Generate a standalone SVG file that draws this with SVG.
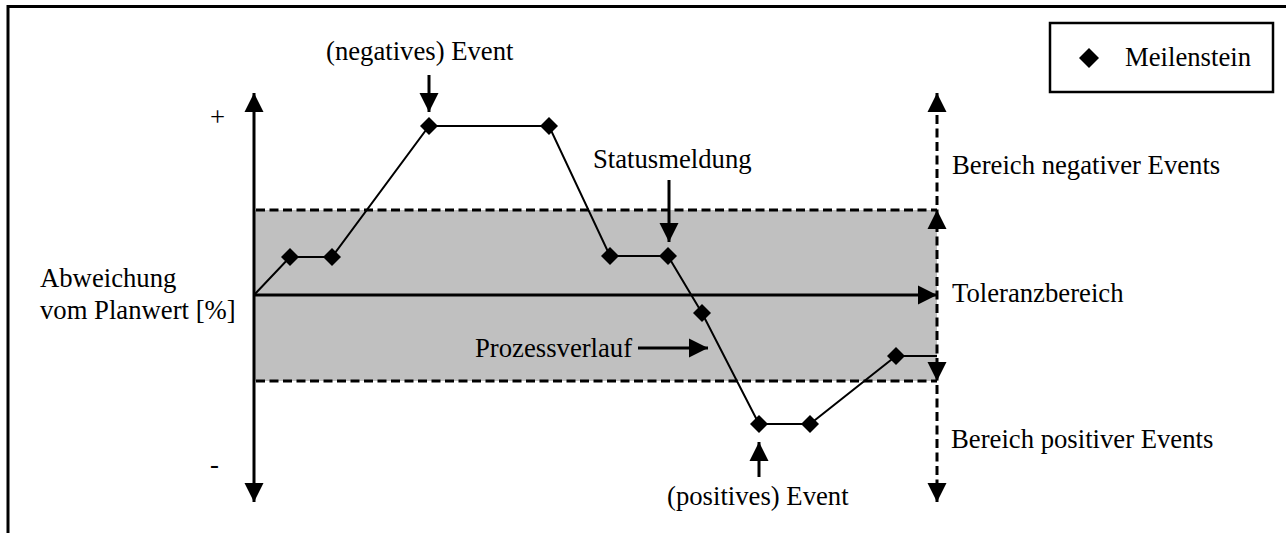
<svg xmlns="http://www.w3.org/2000/svg" xmlns:xlink="http://www.w3.org/1999/xlink" width="1286" height="533" viewBox="0 0 1286 533">
  <style>
    text { font-family: "Liberation Serif", "Times New Roman", serif; font-size: 26.7px; fill: #000; }
    .frame { fill: none; stroke: #000; stroke-width: 3; }
    .axis { fill: none; stroke: #000; stroke-width: 3; }
    .dash { fill: none; stroke: #000; stroke-width: 3; stroke-dasharray: 9 4.5; }
    .proc { fill: none; stroke: #000; stroke-width: 2; }
    .arr { fill: none; stroke: #000; stroke-width: 3; }
    .band { fill: #c0c0c0; stroke: none; }
    .ms { fill: #000; }
  </style>
  <defs>
    <marker id="ah" markerUnits="userSpaceOnUse" markerWidth="20" markerHeight="20" viewBox="0 0 20 20" refX="19" refY="10" orient="auto-start-reverse">
      <path d="M0,0.5 L19,10 L0,19.5 Z" fill="#000"/>
    </marker>
    <polygon id="dia" points="0,-9 9,0 0,9 -9,0"/>
  </defs>

  <rect width="1286" height="533" fill="#fff"/>

  <!-- outer frame -->
  <path class="frame" d="M8,533 V6.5 H1286"/>

  <!-- tolerance band -->
  <g id="toleranzbereich">
    <rect class="band" x="254" y="210" width="683" height="171"/>
    <path class="dash" d="M256,210 H937 M256,381 H937"/>
  </g>

  <g id="connectors">
    <!-- vertical axis -->
    <path class="axis" d="M254,502 V93" marker-start="url(#ah)" marker-end="url(#ah)"/>
    <!-- horizontal axis -->
    <path class="axis" d="M254,295 H937" marker-end="url(#ah)"/>
    <!-- right dashed range line -->
    <path class="dash" d="M937,502 V93" marker-start="url(#ah)" marker-end="url(#ah)"/>
    <path d="M937,240 V210" stroke="none" fill="none" marker-end="url(#ah)"/>
    <path d="M937,350 V381" stroke="none" fill="none" marker-end="url(#ah)"/>
    <!-- process line -->
    <polyline class="proc" points="254,295 290,257 332,257 429,126 549,126 610,256 668,256 702,313 759,424 810,424 896,356 937,356"/>
    <!-- event arrows -->
    <path class="arr" d="M429,75 V112" marker-end="url(#ah)"/>
    <path class="arr" d="M669,180 V242" marker-end="url(#ah)"/>
    <path class="arr" d="M759,477 V442" marker-end="url(#ah)"/>
    <path class="arr" d="M638,348 H708" marker-end="url(#ah)"/>
  </g>

  <g id="milestones">
    <use xlink:href="#dia" class="ms" x="290" y="257"/>
    <use xlink:href="#dia" class="ms" x="332" y="257"/>
    <use xlink:href="#dia" class="ms" x="429" y="126"/>
    <use xlink:href="#dia" class="ms" x="549" y="126"/>
    <use xlink:href="#dia" class="ms" x="610" y="256"/>
    <use xlink:href="#dia" class="ms" x="668" y="256"/>
    <use xlink:href="#dia" class="ms" x="702" y="313"/>
    <use xlink:href="#dia" class="ms" x="759" y="424"/>
    <use xlink:href="#dia" class="ms" x="810" y="424"/>
    <use xlink:href="#dia" class="ms" x="896" y="356"/>
  </g>

  <g id="legend">
    <rect x="1050" y="23" width="223" height="69" fill="#fff" stroke="#000" stroke-width="2.5"/>
    <polygon points="1089,48 1099,58 1089,68 1079,58" fill="#000"/>
    <text x="1125" y="66">Meilenstein</text>
  </g>

  <g id="labels">
    <text x="210" y="126">+</text>
    <text x="210" y="473">-</text>
    <text x="40" y="287">Abweichung</text>
    <text x="40" y="319">vom Planwert [%]</text>
    <text x="326" y="60">(negatives) Event</text>
    <text x="593" y="168">Statusmeldung</text>
    <text x="475" y="357">Prozessverlauf</text>
    <text x="667" y="505">(positives) Event</text>
    <text x="952" y="174">Bereich negativer Events</text>
    <text x="952" y="302">Toleranzbereich</text>
    <text x="951" y="448">Bereich positiver Events</text>
  </g>
</svg>
